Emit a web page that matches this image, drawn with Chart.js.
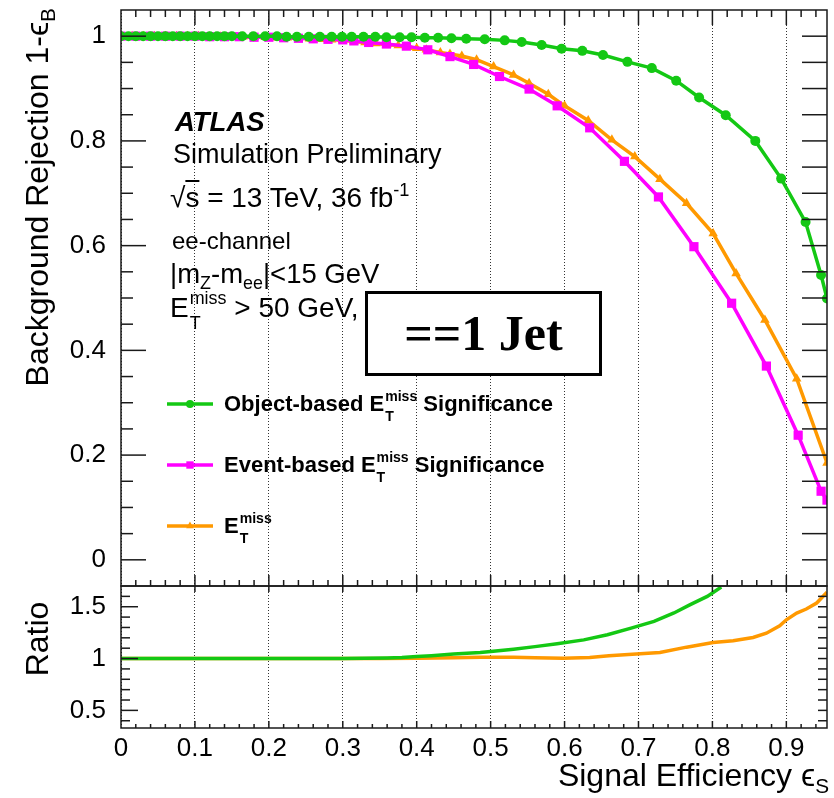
<!DOCTYPE html>
<html>
<head>
<meta charset="utf-8">
<title>MET significance ROC, ==1 jet</title>
<script src="https://cdn.jsdelivr.net/npm/chart.js@4.4.1/dist/chart.umd.min.js"></script>
<style>
  body { margin: 0; background: #fff; }
  #wrap { position: relative; width: 834px; height: 798px; overflow: hidden; }
  #roc { position: absolute; left: 0; top: 0; }
  .lbl { position: absolute; font-family: "Liberation Sans", Arial, sans-serif; line-height: 1; white-space: nowrap; color: #000; }
  .lbl sub { font-size: .65em; vertical-align: -.35em; line-height: 0; }
  .lbl sup { font-size: .65em; vertical-align: .6em; line-height: 0; }
  /* E_T^miss: "miss" raised, "T" hung underneath it */
  .ss { position: relative; font-size: .64em; vertical-align: .714em; line-height: 0; margin-left: 1px; }
  .ss .tt { position: absolute; left: 0; top: 1.49em; line-height: 1; }
  .leg { font-weight: bold; font-size: 22px; left: 224px; }
  .rot { transform-origin: 0 0; transform: rotate(-90deg); font-size: 32px; }
  #jet { position: absolute; left: 365px; top: 291px; width: 237px; height: 85px; box-sizing: border-box;
         border: 3px solid #000; background: #fff; font-family: "Liberation Serif", serif; font-weight: bold;
         font-size: 50px; text-align: center; line-height: 79px; }
</style>
</head>
<body>
<div id="wrap">
  <canvas id="roc" width="834" height="798"></canvas>

  <div class="lbl" style="left:175px;top:108px;font-size:27.5px;font-weight:bold;font-style:italic">ATLAS</div>
  <div class="lbl" style="left:173px;top:141px;font-size:27px">Simulation Preliminary</div>
  <div class="lbl" style="left:170px;top:184px;font-size:28px">√<span style="text-decoration:overline">s</span> = 13 TeV, 36 fb<sup>-1</sup></div>
  <div class="lbl" style="left:172px;top:229px;font-size:24px">ee-channel</div>
  <div class="lbl" style="left:170px;top:260px;font-size:27.5px">|m<sub>Z</sub>-m<sub>ee</sub>|&lt;15 GeV</div>
  <div class="lbl" style="left:170px;top:294px;font-size:28px">E<span class="ss">miss<span class="tt">T</span></span> &gt; 50 GeV,</div>

  <div id="jet">==1 Jet</div>

  <div class="lbl leg" style="top:393px">Object-based E<span class="ss">miss<span class="tt">T</span></span> Significance</div>
  <div class="lbl leg" style="top:454px">Event-based E<span class="ss">miss<span class="tt">T</span></span> Significance</div>
  <div class="lbl leg" style="top:515px">E<span class="ss">miss<span class="tt">T</span></span></div>

  <div class="lbl rot" style="left:21px;top:408px;width:400px;text-align:right">Background Rejection 1-ϵ<sub>B</sub></div>
  <div class="lbl rot" style="left:21px;top:739px;width:200px;text-align:center">Ratio</div>
  <div class="lbl" style="right:5px;top:759px;font-size:32px">Signal Efficiency ϵ<sub>S</sub></div>
</div>

<script>
// object-based MET significance (green circles)
const effObj = [0, 0.01, 0.02, 0.03, 0.04, 0.05, 0.06, 0.07, 0.08, 0.09, 0.10, 0.11, 0.12, 0.13, 0.14, 0.15,
  0.164, 0.179, 0.195, 0.211, 0.224, 0.238, 0.254, 0.269,
  0.285, 0.299, 0.312, 0.328, 0.344, 0.359, 0.377, 0.393, 0.411, 0.429, 0.447, 0.467,
  0.492, 0.519, 0.542, 0.569, 0.596, 0.624, 0.652, 0.685, 0.718, 0.751, 0.782, 0.818, 0.858, 0.893, 0.926, 0.947, 0.955];
const rejObj = [1, 1, 1, 1, 1, 1, 1, 1, 1, 1, 1, 1, 1, 1, 1, 1,
  1, 1, 1, 1, 0.999, 0.999, 0.999, 0.999,
  0.999, 0.999, 0.999, 0.999, 0.999, 0.998, 0.998, 0.998, 0.997, 0.997, 0.996, 0.995,
  0.994, 0.992, 0.989, 0.983, 0.976, 0.972, 0.964, 0.951, 0.939, 0.915, 0.883, 0.849, 0.800, 0.728, 0.645, 0.544, 0.499];

// event-based MET significance (magenta squares)
const effEvt = [0, 0.02, 0.04, 0.06, 0.08, 0.10, 0.12, 0.14, 0.16, 0.18, 0.20, 0.22, 0.24, 0.26, 0.28, 0.30,
  0.315, 0.335, 0.359, 0.386, 0.415, 0.445, 0.477, 0.512, 0.552, 0.590, 0.634, 0.681, 0.727, 0.775, 0.826, 0.873, 0.916, 0.947, 0.955];
const rejEvt = [1, 1, 1, 1, 1, 1, 0.999, 0.999, 0.999, 0.998, 0.998, 0.997, 0.996, 0.995, 0.994, 0.993,
  0.991, 0.988, 0.985, 0.981, 0.974, 0.961, 0.946, 0.923, 0.899, 0.867, 0.825, 0.761, 0.693, 0.598, 0.490, 0.370, 0.238, 0.131, 0.114];

// plain MET cut (orange triangles)
const effMet = [0, 0.015, 0.03, 0.045, 0.06, 0.075, 0.09, 0.105, 0.12, 0.135, 0.15, 0.165, 0.18, 0.195, 0.21, 0.225,
  0.24, 0.255, 0.27, 0.285, 0.30, 0.315, 0.33, 0.345, 0.36, 0.375, 0.39,
  0.40, 0.413, 0.432, 0.445, 0.461, 0.481, 0.504, 0.531, 0.552, 0.578, 0.600, 0.632, 0.664, 0.695, 0.729, 0.765, 0.801, 0.832, 0.871, 0.914, 0.955];
const rejMet = [1, 1, 1, 1, 1, 1, 1, 1, 0.999, 0.999, 0.999, 0.999, 0.998, 0.998, 0.997, 0.997,
  0.996, 0.995, 0.994, 0.993, 0.992, 0.990, 0.988, 0.986, 0.984, 0.982, 0.979,
  0.977, 0.974, 0.969, 0.966, 0.962, 0.955, 0.942, 0.926, 0.910, 0.889, 0.867, 0.839, 0.802, 0.770, 0.727, 0.681, 0.623, 0.547, 0.458, 0.346, 0.185];

// ratio panel, relative to the event-based curve
const effRatioObj = [0, 0.1, 0.2, 0.3, 0.33, 0.36, 0.38, 0.40, 0.42, 0.45, 0.486, 0.50, 0.531, 0.56, 0.59, 0.626, 0.658, 0.69, 0.721, 0.748, 0.77, 0.793, 0.812];
const ratioObj = [1, 1, 1, 1.001, 1.003, 1.006, 1.01, 1.019, 1.028, 1.043, 1.058, 1.068, 1.09, 1.115, 1.142, 1.18, 1.23, 1.294, 1.358, 1.44, 1.52, 1.60, 1.69];
const effRatioMet = [0, 0.1, 0.2, 0.3, 0.35, 0.40, 0.45, 0.486, 0.531, 0.56, 0.598, 0.634, 0.66, 0.697, 0.729, 0.765, 0.801, 0.828, 0.855, 0.873, 0.891, 0.900, 0.914, 0.927, 0.941, 0.955];
const ratioMet = [1, 1, 1, 1, 1, 1.002, 1.008, 1.013, 1.013, 1.008, 1.004, 1.010, 1.026, 1.045, 1.058, 1.11, 1.155, 1.171, 1.203, 1.245, 1.316, 1.374, 1.439, 1.478, 1.536, 1.64];

const xTickLabels = ['0', '0.1', '0.2', '0.3', '0.4', '0.5', '0.6', '0.7', '0.8', '0.9'];
const yTickLabels = ['0', '0.2', '0.4', '0.6', '0.8', '1'];
const ratioTickLabels = ['0.5', '1', '1.5'];

const GREEN = '#14c814', MAGENTA = '#ff00ff', ORANGE = '#ff9900';
const FONT = '"Liberation Sans", Arial, sans-serif';

const pts = (xs, ys) => xs.map((x, i) => ({ x, y: ys[i] }));

function curve(label, xs, ys, color, style, r) {
  return {
    label, data: pts(xs, ys), yAxisID: 'y',
    borderColor: color, backgroundColor: color, borderWidth: 3.5, tension: 0,
    pointStyle: style, pointRadius: r, pointHoverRadius: r, pointBorderWidth: 0
  };
}
function ratio(label, xs, ys, color) {
  return {
    label, data: pts(xs, ys), yAxisID: 'yr',
    borderColor: color, backgroundColor: color, borderWidth: 3.5, tension: 0, pointRadius: 0
  };
}

// ROOT-style frame: boxes round both pads, ticks pointing inwards
const frame = {
  id: 'frame',
  afterDatasetsDraw(chart) {
    const { ctx, scales: { x, y, yr } } = chart;
    const L = x.left, R = x.right;
    const seg = (x1, y1, x2, y2) => { ctx.beginPath(); ctx.moveTo(x1, y1); ctx.lineTo(x2, y2); ctx.stroke(); };
    ctx.save();
    ctx.strokeStyle = '#1a1a1a';
    ctx.lineWidth = 1.5;
    for (let i = 1; i * 0.02 < x.max; i++) {
      const px = x.getPixelForValue(i * 0.02), big = i % 5 === 0;
      seg(px, y.top, px, y.top + (big ? 15 : 7));
      seg(px, y.bottom, px, y.bottom - (big ? 11 : 6));
      if (big) seg(px, yr.top, px, yr.top + 6);
      seg(px, yr.bottom, px, yr.bottom - (big ? 7 : 4));
    }
    for (let i = 0; i <= 20; i++) {
      const py = y.getPixelForValue(i * 0.05);
      seg(L, py, L + (i % 4 === 0 ? 25 : 12), py);
      seg(R, py, R - 25, py);
    }
    for (let i = 4; i <= 16; i++) {
      const py = yr.getPixelForValue(i / 10);
      seg(L, py, L + (i % 5 === 0 ? 17 : 9), py);
      seg(R, py, R - 9, py);
    }
    ctx.strokeRect(L, y.top, R - L, y.bottom - y.top);
    ctx.strokeRect(L, yr.top, R - L, yr.bottom - yr.top);
    ctx.restore();
  }
};

// legend line + marker samples (text is in the page)
const legendRows = [{ ds: 0, y: 404 }, { ds: 1, y: 465 }, { ds: 2, y: 526 }];
const legendSamples = {
  id: 'legendSamples',
  afterDraw(chart) {
    const ctx = chart.ctx;
    legendRows.forEach(row => {
      const d = chart.data.datasets[row.ds];
      ctx.save();
      ctx.strokeStyle = d.borderColor;
      ctx.fillStyle = d.backgroundColor;
      ctx.lineWidth = 3.5;
      ctx.beginPath(); ctx.moveTo(167, row.y); ctx.lineTo(213, row.y); ctx.stroke();
      Chart.helpers.drawPoint(ctx, { pointStyle: d.pointStyle, radius: d.pointRadius * 0.8, rotation: 0, borderWidth: 0 }, 190, row.y);
      ctx.restore();
    });
  }
};

const noPad = s => { s.paddingTop = 0; s.paddingBottom = 0; };

new Chart(document.getElementById('roc'), {
  type: 'line',
  data: {
    datasets: [
      curve('Object-based MET Significance', effObj, rejObj, GREEN, 'circle', 5),
      curve('Event-based MET Significance', effEvt, rejEvt, MAGENTA, 'rect', 6.5),
      curve('MET', effMet, rejMet, ORANGE, 'triangle', 5.5),
      ratio('Object-based / Event-based', effRatioObj, ratioObj, GREEN),
      ratio('MET / Event-based', effRatioMet, ratioMet, ORANGE)
    ]
  },
  options: {
    responsive: false,
    animation: false,
    devicePixelRatio: 1,
    events: [],
    layout: { autoPadding: false, padding: { top: 10, right: 7, left: 0, bottom: 0 } },
    plugins: { legend: { display: false }, tooltip: { enabled: false } },
    scales: {
      x: {
        type: 'linear', position: 'bottom', min: 0, max: 0.955,
        grid: { color: '#333', lineWidth: 1, drawTicks: false },
        border: { display: false, dash: [1, 2] },
        ticks: {
          stepSize: 0.1, includeBounds: false, maxRotation: 0, autoSkip: false, padding: 5,
          color: '#000', font: { family: FONT, size: 26 },
          callback: v => xTickLabels[Math.round(v * 10)]
        },
        afterFit: s => { s.height = 70; s.paddingLeft = 0; s.paddingRight = 0; }
      },
      yr: {
        type: 'linear', position: 'left', stack: 'pads', stackWeight: 142, min: 0.33, max: 1.7,
        grid: { display: false }, border: { display: false },
        ticks: {
          stepSize: 0.5, includeBounds: false, padding: 7, color: '#000', font: { family: FONT, size: 26 },
          callback: v => ratioTickLabels[Math.round(v * 2) - 1]
        },
        afterFit: s => { s.width = 121; noPad(s); }
      },
      y: {
        type: 'linear', position: 'left', stack: 'pads', stackWeight: 576, min: -0.05, max: 1.05,
        grid: { display: false }, border: { display: false },
        ticks: {
          stepSize: 0.2, includeBounds: false, padding: 7, color: '#000', font: { family: FONT, size: 26 },
          callback: v => yTickLabels[Math.round(v * 5)]
        },
        afterFit: s => { s.width = 121; noPad(s); }
      }
    }
  },
  plugins: [frame, legendSamples]
});
</script>
</body>
</html>
